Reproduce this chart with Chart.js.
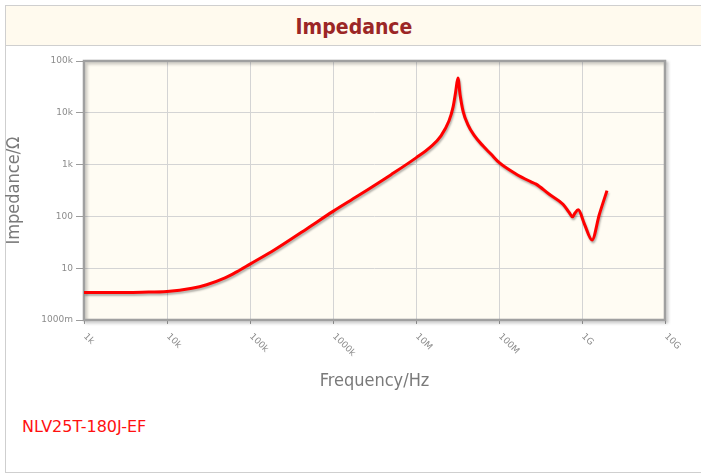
<!DOCTYPE html>
<html>
<head>
<meta charset="utf-8">
<script src="https://cdn.jsdelivr.net/npm/chart.js@4/dist/chart.umd.min.js"></script>
<style>
  html, body { margin: 0; padding: 0; background: #fff; }
  body { width: 701px; height: 475px; position: relative; overflow: hidden; }
  .frame {
    position: absolute; left: 5px; top: 5px; width: 710px; height: 466px;
    border: 1px solid #cfcfcf; border-right: none;
  }
  .title {
    position: absolute; left: 0; top: 0; width: 100%; height: 40px;
    background: #fffaee; border-bottom: 1px solid #cfcfcf;
    text-align: center; line-height: 42px; padding-right: 14px; box-sizing: border-box;
    font-family: 'DejaVu Sans Condensed', 'DejaVu Sans', sans-serif; font-stretch: condensed;
    font-weight: bold; font-size: 21px; color: #9b2626;
  }
  .part {
    position: absolute; left: 22px; top: 417px;
    font-family: 'DejaVu Sans', sans-serif; font-size: 16px; color: #ff1010;
  }
  .wrap { position: absolute; left: 0; top: 0; width: 701px; height: 475px; }
</style>
</head>
<body>
<div class="frame"><div class="title">Impedance</div></div>
<div class="part">NLV25T-180J-EF</div>
<div class="wrap"><canvas id="impChart"></canvas></div>
<script>
  'use strict';

  // frequency (Hz) and |Z| (ohm)
  const freqHz = [
    1e3, 2e3, 5e3, 1e4, 2e4, 3e4, 5e4, 7e4, 1e5, 2e5, 5e5, 1e6, 2e6, 5e6, 1e7,
    1.5e7, 2e7, 2.5e7, 2.8e7, 3e7, 3.2e7, 3.4e7, 3.7e7, 4.2e7, 5e7, 6.4e7, 8e7, 1e8,
    1.6e8, 2.4e8, 2.8e8, 4e8, 5.9e8, 7e8, 7.7e8, 8.2e8, 9e8, 1.07e9, 1.32e9, 1.62e9, 2e9
  ];
  const impedanceOhm = [
    3.4, 3.4, 3.45, 3.55, 4.1, 4.8, 6.5, 8.6, 12, 23, 60, 125, 250, 640, 1350,
    2200, 3600, 7000, 13000, 25000, 47000, 22000, 10500, 6000, 3700, 2300, 1600, 1100,
    660, 470, 420, 270, 172, 120, 98, 115, 134, 71, 35, 110, 315
  ];

  const xTickVals   = [1e3, 1e4, 1e5, 1e6, 1e7, 1e8, 1e9, 1e10];
  const xTickLabels = ['1k', '10k', '100k', '1000k', '10M', '100M', '1G', '10G'];
  const yTickVals   = [1, 10, 100, 1e3, 1e4, 1e5];
  const yTickLabels = ['1000m', '10', '100', '1k', '10k', '100k'];

  const condensed = "'DejaVu Sans Condensed', 'DejaVu Sans', sans-serif";

  // cream plot background + grey frame
  const plotFrame = {
    id: 'plotFrame',
    beforeDraw(chart) {
      const a = chart.chartArea, ctx = chart.ctx;
      ctx.save();
      ctx.fillStyle = '#fffcf3';
      ctx.fillRect(a.left, a.top, a.right - a.left, a.bottom - a.top);
      ctx.restore();
    },
    beforeDatasetsDraw(chart) {
      const a = chart.chartArea, ctx = chart.ctx;
      ctx.save();
      ctx.shadowColor = 'rgba(0,0,0,0.25)';
      ctx.shadowOffsetX = 2;
      ctx.shadowOffsetY = 2;
      ctx.shadowBlur = 3;
      ctx.strokeStyle = '#a0a0a0';
      ctx.lineWidth = 2.5;
      ctx.strokeRect(a.left, a.top, a.right - a.left, a.bottom - a.top);
      ctx.restore();
      // shadow for the curve
      ctx.save();
      ctx.shadowColor = 'rgba(0,0,0,0.3)';
      ctx.shadowOffsetX = 1;
      ctx.shadowOffsetY = 2;
      ctx.shadowBlur = 2;
    },
    afterDatasetsDraw(chart) {
      chart.ctx.restore();
    },
    afterDraw(chart) {
      // x tick labels slanted downwards to the right
      const s = chart.scales.x, ctx = chart.ctx;
      ctx.save();
      ctx.font = "9px 'DejaVu Sans', sans-serif";
      ctx.fillStyle = '#8c8c8c';
      ctx.textAlign = 'left';
      ctx.textBaseline = 'middle';
      xTickVals.forEach(function (v, i) {
        const px = s.getPixelForValue(v);
        ctx.save();
        ctx.translate(px + 1, chart.chartArea.bottom + 15);
        ctx.rotate(Math.PI / 4);
        ctx.fillText(xTickLabels[i], 0, 0);
        ctx.restore();
      });
      ctx.restore();
    }
  };

  const ctx = document.getElementById('impChart').getContext('2d');
  new Chart(ctx, {
    type: 'line',
    data: {
      datasets: [{
        label: 'NLV25T-180J-EF',
        data: freqHz.map(function (f, i) { return { x: f, y: impedanceOhm[i] }; }),
        borderColor: '#ff0000',
        borderWidth: 3,
        pointRadius: 0,
        cubicInterpolationMode: 'monotone',
        fill: false
      }]
    },
    options: {
      responsive: true,
      maintainAspectRatio: false,
      animation: false,
      layout: { padding: { left: 0, top: 61, right: 36, bottom: 79 } },
      plugins: { legend: { display: false }, tooltip: { enabled: false } },
      scales: {
        x: {
          type: 'logarithmic',
          min: 1e3,
          max: 1e10,
          afterBuildTicks: function (s) { s.ticks = xTickVals.map(function (v) { return { value: v }; }); },
          afterFit: function (s) { s.height = 76; },
          ticks: { display: false },
          grid: { color: '#d4d4d4', tickColor: '#9c9c9c', tickLength: 4 },
          border: { display: false },
          title: {
            display: true, text: 'Frequency/Hz', color: '#7a7a7a',
            font: { family: condensed, size: 18 }, padding: { top: 0, bottom: 4 }
          }
        },
        y: {
          type: 'logarithmic',
          min: 1,
          max: 1e5,
          afterBuildTicks: function (s) { s.ticks = yTickVals.map(function (v) { return { value: v }; }); },
          afterFit: function (s) { s.width = 84; },
          ticks: {
            color: '#8c8c8c',
            padding: 3,
            font: { family: "'DejaVu Sans', sans-serif", size: 9 },
            callback: function (v) { return yTickLabels[yTickVals.indexOf(v)]; }
          },
          grid: { color: '#d4d4d4', tickColor: '#9c9c9c', tickLength: 8 },
          border: { display: false },
          title: {
            display: true, text: 'Impedance/\u03A9', color: '#7a7a7a',
            font: { family: condensed, size: 18 }, padding: { top: 4, bottom: 0 }
          }
        }
      }
    },
    plugins: [plotFrame]
  });
</script>
</body>
</html>
